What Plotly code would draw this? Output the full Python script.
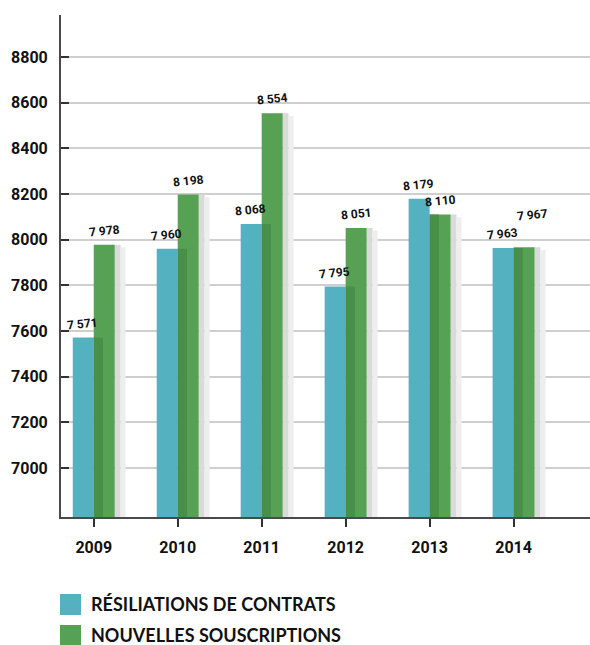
import plotly.graph_objects as go

years = ["2009", "2010", "2011", "2012", "2013", "2014"]
resiliations = [7571, 7960, 8068, 7795, 8179, 7963]
souscriptions = [7978, 8198, 8554, 8051, 8110, 7967]
series_names = ["RÉSILIATIONS DE CONTRATS", "NOUVELLES SOUSCRIPTIONS"]
y_ticks = [7000, 7200, 7400, 7600, 7800, 8000, 8200, 8400, 8600, 8800]

BLUE = "#54B1C0"
GREEN = "#56A153"
GREEN_DARK = "#48904A"

def fmt(v):
    return f"{v:,}".replace(",", "\u00a0")

W, H = 590, 645
ml, mr, mt, mb = 61, 0, 15, 128
pw, ph = W - ml - mr, H - mt - mb

def px_x(x):
    return (x - ml) / pw

def px_y(y):
    return (H - mb - y) / ph

fig = go.Figure()

# drop shadow to the right of the green bars
fig.add_trace(go.Bar(x=years, y=souscriptions, offset=0.25, width=0.07,
                     marker=dict(color="#dadada", line=dict(width=0)),
                     hoverinfo="skip", showlegend=False))
fig.add_trace(go.Bar(x=years, y=[v - 12 for v in souscriptions], offset=0.32, width=0.06,
                     marker=dict(color="#eeeeee", line=dict(width=0)),
                     hoverinfo="skip", showlegend=False))

fig.add_trace(go.Bar(x=years, y=resiliations, offset=-0.25, width=0.25,
                     name=series_names[0],
                     marker=dict(color=BLUE, line=dict(width=0)),
                     showlegend=False))
fig.add_trace(go.Bar(x=years, y=souscriptions, offset=0.0, width=0.25,
                     name=series_names[1],
                     marker=dict(color=GREEN, line=dict(width=0)),
                     showlegend=False))
# darker shading on left part of green bars (cast by the blue bar)
fig.add_trace(go.Bar(x=years, y=[min(a, b) for a, b in zip(resiliations, souscriptions)],
                     offset=0.0, width=0.11,
                     marker=dict(color=GREEN_DARK, line=dict(width=0)),
                     hoverinfo="skip", showlegend=False))

# value labels (x given as category index)
label_font = dict(family="Roboto", size=12, color="#111", weight="bold")
for i, (a, b) in enumerate(zip(resiliations, souscriptions)):
    fig.add_annotation(x=i, y=a, xref="x", yref="y", xshift=-11, yshift=3, text=fmt(a),
                       xanchor="center", yanchor="bottom", showarrow=False,
                       textangle=-6, font=label_font)
    extra = 18 if abs(a - b) < 40 else 0
    fig.add_annotation(x=i, y=b, xref="x", yref="y", xshift=11 + (8 if extra else 0),
                       yshift=3 + extra, text=fmt(b),
                       xanchor="center", yanchor="bottom", showarrow=False,
                       textangle=-6, font=label_font)

fig.update_layout(
    width=W, height=H,
    margin=dict(l=ml, r=mr, t=mt, b=mb),
    paper_bgcolor="white", plot_bgcolor="white",
    barmode="overlay",
    showlegend=False,
    font=dict(family="Roboto", color="#111"),
)

fig.update_xaxes(
    type="category", range=[-0.39, 5.91],
    showline=True, linecolor="#4a4a4a", linewidth=2,
    ticks="outside", ticklen=8, tickwidth=2, tickcolor="#333",
    tickfont=dict(family="Roboto", size=16, color="#111", weight="bold"),
    ticklabelstandoff=7,
    showgrid=False, zeroline=False,
)
fig.update_yaxes(
    range=[6785, 8984],
    tickvals=y_ticks, ticktext=[str(v) for v in y_ticks],
    showline=True, linecolor="#4a4a4a", linewidth=2,
    ticks="inside", ticklen=8, tickwidth=2, tickcolor="#333",
    tickfont=dict(family="Roboto", size=16, color="#111", weight="bold"),
    ticklabelstandoff=8,
    showgrid=True, gridcolor="#cfcfcf", gridwidth=1.5,
    zeroline=False,
)

# manual legend with large square swatches
legend_rows = [(BLUE, 594, 604), (GREEN, 625, 635)]
for (color, top, mid), name in zip(legend_rows, series_names):
    fig.add_shape(type="rect", xref="paper", yref="paper",
                  x0=px_x(60), x1=px_x(81), y0=px_y(top), y1=px_y(top + 21),
                  fillcolor=color, line=dict(width=0))
    fig.add_annotation(xref="paper", yref="paper", x=px_x(89), y=px_y(mid),
                       xanchor="left", yanchor="middle", showarrow=False,
                       text=name,
                       font=dict(family="Lato", size=18, color="#111", weight="bold"))

fig.write_html("out.html",
               config={"displayModeBar": False},
               post_script="document.body.style.margin='0';document.body.style.overflow='hidden';")
